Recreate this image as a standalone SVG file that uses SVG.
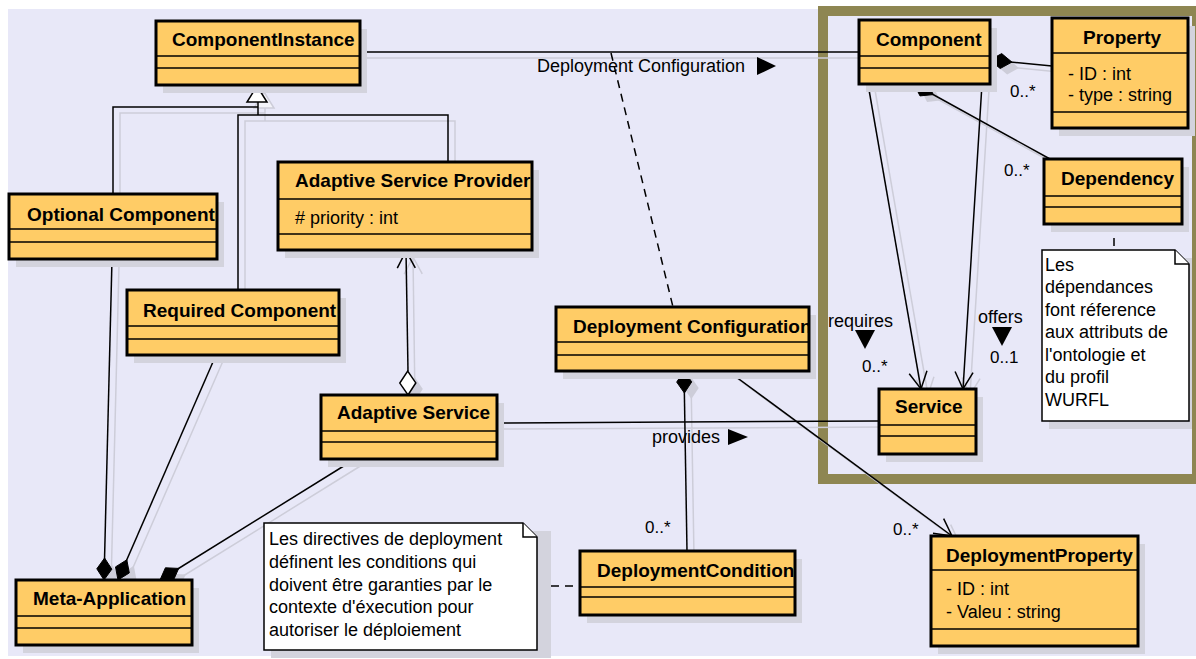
<svg xmlns="http://www.w3.org/2000/svg" width="1196" height="659" viewBox="0 0 1196 659">
<style>
.bg{fill:#E8E8F8}
.sh{fill:#D3D3DD}
.box{fill:#FFCC66;stroke:#000;stroke-width:3}
.dv{stroke:#000;stroke-width:1.5}
.t{font-family:"Liberation Sans",Arial,sans-serif;font-weight:bold;font-size:19px;fill:#000}
.a{font-family:"Liberation Sans",Arial,sans-serif;font-size:18px;fill:#000}
.m{font-family:"Liberation Sans",Arial,sans-serif;font-size:17px;fill:#000}
.note{fill:#fff;stroke:#000;stroke-width:1.5}
.ln{fill:none;stroke:#000;stroke-width:1.5}
.dash{stroke-dasharray:8 6}
.shl{fill:none;stroke:#CDCDD9;stroke-width:1.5}
.dia{fill:#000;stroke:#000;stroke-width:1}
.odia{fill:#fff;stroke:#000;stroke-width:1.5}
.sdia{fill:#CDCDD9}
</style>
<defs>
<marker id="arr" markerUnits="userSpaceOnUse" refX="0" refY="0" markerWidth="1" markerHeight="1" orient="auto" overflow="visible">
<path d="M-17,-9 L0,0 L-17,9" fill="none" stroke="#000" stroke-width="1.5"/>
</marker>
<marker id="arrShadow" markerUnits="userSpaceOnUse" refX="0" refY="0" markerWidth="1" markerHeight="1" orient="auto" overflow="visible">
<path d="M-17,-9 L0,0 L-17,9" fill="none" stroke="#CDCDD9" stroke-width="1.5"/>
</marker>
<clipPath id="cASP"><rect x="278" y="162" width="253" height="37"/></clipPath>
<clipPath id="cDC"><rect x="556" y="307" width="252" height="35"/></clipPath>
<clipPath id="cDCo"><rect x="580" y="551" width="214" height="36"/></clipPath>
<clipPath id="cDP"><rect x="931" y="536" width="206" height="34"/></clipPath>
</defs>

<rect x="0" y="0" width="1196" height="659" fill="#fff"/>
<rect class="bg" x="8" y="9" width="1188" height="647"/>
<rect x="823" y="11" width="374" height="468" fill="none" stroke="#8E8652" stroke-width="10"/>

<g id="connector-shadows" transform="translate(7,6)">
<path class="shl" d="M360,52 L859,52"/>
<path class="shl" d="M113,194 L113,107 L258,107 M238,290 L238,115 L448,115 L448,162 M258,115 L258,102"/>
<polygon points="257,86 247,102 267,102" fill="#F4F4FA" stroke="#CDCDD9" stroke-width="1.5"/>
<path class="shl" d="M104,580 L112,259 M118,580 L216,355 M160,580 L355,459"/>
<path class="shl" d="M408,395 L406,251" marker-end="url(#arrShadow)"/>
<path class="shl" d="M497,423 L879,421 M684,371 L687,551"/>
<path class="shl" d="M728,371 L952,536" marker-end="url(#arrShadow)"/>
<path class="shl" d="M990,60 L1052,66 M914,84 L1050,159"/>
<path class="shl" d="M868,84 L921,389" marker-end="url(#arrShadow)"/>
<path class="shl" d="M982,84 L963,389" marker-end="url(#arrShadow)"/>
<polygon class="sdia" points="104,580 111.8,569.2 104.6,558 96.8,568.8"/>
<polygon class="sdia" points="118,580 129.3,572.9 126.8,559.8 115.5,566.9"/>
<polygon class="sdia" points="160,580 173.3,580.6 178.7,568.4 165.4,567.8"/>
<polygon class="sdia" points="408,395 415.8,382.9 407.7,371 399.8,383.1"/>
<polygon class="sdia" points="684,371 691.7,381.9 684.4,393 676.7,382.1"/>
<polygon class="sdia" points="990,60 1000.2,68.5 1011.9,62.1 1001.7,53.6"/>
<polygon class="sdia" points="914,84 920,95.9 933.3,94.6 927.3,82.7"/>
</g>

<g id="connectors">
<path class="ln" d="M360,52 L859,52"/>
<path class="ln dash" d="M611,53 L673,307"/>
<text class="a" x="537" y="72">Deployment Configuration</text>
<polygon points="757,57 776,66 757,75" fill="#000"/>

<path class="ln" d="M113,194 L113,107 L258,107"/>
<path class="ln" d="M238,290 L238,115 L448,115 L448,162"/>
<path class="ln" d="M258,115 L258,102"/>
<polygon points="257,86 247,102 267,102" fill="#fff" stroke="#000" stroke-width="1.5"/>

<path class="ln" d="M104,580 L112,259"/>
<polygon class="dia" points="104,580 111.8,569.2 104.6,558 96.8,568.8"/>
<path class="ln" d="M118,580 L216,355"/>
<polygon class="dia" points="118,580 129.3,572.9 126.8,559.8 115.5,566.9"/>
<path class="ln" d="M160,580 L355,459"/>
<polygon class="dia" points="160,580 173.3,580.6 178.7,568.4 165.4,567.8"/>

<path class="ln" d="M408,371 L406,251" marker-end="url(#arr)"/>
<polygon class="odia" points="408,395 415.8,382.9 407.7,371 399.8,383.1"/>

<path class="ln" d="M497,423 L879,421"/>
<text class="a" x="652" y="443">provides</text>
<polygon points="728,429 748,437 728,445" fill="#000"/>

<path class="ln" d="M684,371 L687,551"/>
<polygon class="dia" points="684,371 691.7,381.9 684.4,393 676.7,382.1"/>
<text class="m" x="645" y="533">0..*</text>
<path class="ln" d="M728,371 L952,536" marker-end="url(#arr)"/>
<text class="m" x="893" y="535">0..*</text>

<path class="ln dash" d="M537,586 L580,586"/>

<path class="ln" d="M990,60 L1052,66"/>
<polygon class="dia" points="990,60 1000.2,68.5 1011.9,62.1 1001.7,53.6"/>
<text class="m" x="1010" y="97">0..*</text>
<path class="ln" d="M914,84 L1050,159"/>
<polygon class="dia" points="914,84 920,95.9 933.3,94.6 927.3,82.7"/>
<text class="m" x="1004" y="176">0..*</text>
<path class="ln dash" d="M1114,224 L1114,250"/>

<path class="ln" d="M868,84 L921,389" marker-end="url(#arr)"/>
<text class="a" x="828" y="327">requires</text>
<polygon points="855,330 875,330 865,349" fill="#000"/>
<text class="m" x="862" y="372">0..*</text>
<path class="ln" d="M982,84 L963,389" marker-end="url(#arr)"/>
<text class="a" x="978" y="323">offers</text>
<polygon points="992,327 1012,327 1002,346" fill="#000"/>
<text class="m" x="990" y="363">0..1</text>
</g>

<g id="ComponentInstance">
<rect class="sh" x="163" y="29" width="204" height="64"/>
<rect class="box" x="156" y="21" width="204" height="64"/>
<line class="dv" x1="156" y1="56" x2="360" y2="56"/><line class="dv" x1="156" y1="68" x2="360" y2="68"/>
<text class="t" x="172" y="46">ComponentInstance</text>
</g>

<g id="OptionalComponent">
<rect class="sh" x="16" y="202" width="208" height="65"/>
<rect class="box" x="9" y="194" width="208" height="65"/>
<line class="dv" x1="9" y1="229" x2="217" y2="229"/><line class="dv" x1="9" y1="242" x2="217" y2="242"/>
<text class="t" x="27" y="221">Optional Component</text>
</g>

<g id="RequiredComponent">
<rect class="sh" x="134" y="298" width="212" height="65"/>
<rect class="box" x="127" y="290" width="212" height="65"/>
<line class="dv" x1="127" y1="326" x2="339" y2="326"/><line class="dv" x1="127" y1="339" x2="339" y2="339"/>
<text class="t" x="143" y="317">Required Component</text>
</g>

<g id="AdaptiveServiceProvider">
<rect class="sh" x="285" y="170" width="254" height="88"/>
<rect class="box" x="278" y="162" width="254" height="88"/>
<line class="dv" x1="278" y1="199" x2="532" y2="199"/><line class="dv" x1="278" y1="234" x2="532" y2="234"/>
<text class="t" x="295" y="187" clip-path="url(#cASP)">Adaptive Service Provider</text>
<text class="a" x="295" y="224"># priority : int</text>
</g>

<g id="DeploymentConfiguration">
<rect class="sh" x="563" y="315" width="253" height="64"/>
<rect class="box" x="556" y="307" width="253" height="64"/>
<line class="dv" x1="556" y1="342" x2="809" y2="342"/><line class="dv" x1="556" y1="355" x2="809" y2="355"/>
<text class="t" x="573" y="333" clip-path="url(#cDC)">Deployment Configuration</text>
</g>

<g id="AdaptiveService">
<rect class="sh" x="328" y="403" width="176" height="64"/>
<rect class="box" x="321" y="395" width="176" height="64"/>
<line class="dv" x1="321" y1="431" x2="497" y2="431"/><line class="dv" x1="321" y1="442" x2="497" y2="442"/>
<text class="t" x="337" y="419">Adaptive Service</text>
</g>

<g id="MetaApplication">
<rect class="sh" x="23" y="588" width="176" height="65"/>
<rect class="box" x="16" y="580" width="176" height="65"/>
<line class="dv" x1="16" y1="616" x2="192" y2="616"/><line class="dv" x1="16" y1="628" x2="192" y2="628"/>
<text class="t" x="33" y="605">Meta-Application</text>
</g>

<g id="NoteDirectives">
<path class="sh" d="M271,531 L551,531 L551,658 L271,658 Z"/>
<path class="note" d="M264,523 L523,523 L537,537 L537,650 L264,650 Z"/>
<path class="note" d="M523,523 L523,537 L537,537"/>
<text class="a" x="269" y="545">Les directives de deployment</text>
<text class="a" x="269" y="568">définent les conditions qui</text>
<text class="a" x="269" y="591">doivent être garanties par le</text>
<text class="a" x="269" y="613">contexte d'éxecution pour</text>
<text class="a" x="269" y="636">autoriser le déploiement</text>
</g>

<g id="DeploymentCondition">
<rect class="sh" x="587" y="559" width="215" height="64"/>
<rect class="box" x="580" y="551" width="215" height="64"/>
<line class="dv" x1="580" y1="587" x2="795" y2="587"/><line class="dv" x1="580" y1="597" x2="795" y2="597"/>
<text class="t" x="597" y="577" clip-path="url(#cDCo)">DeploymentCondition</text>
</g>

<g id="DeploymentProperty">
<rect class="sh" x="938" y="544" width="207" height="110"/>
<rect class="box" x="931" y="536" width="207" height="110"/>
<line class="dv" x1="931" y1="570" x2="1138" y2="570"/><line class="dv" x1="931" y1="629" x2="1138" y2="629"/>
<text class="t" x="946" y="562" clip-path="url(#cDP)">DeploymentProperty</text>
<text class="a" x="946" y="595">- ID : int</text>
<text class="a" x="946" y="618">- Valeu : string</text>
</g>

<g id="Component">
<rect class="sh" x="866" y="28" width="131" height="64"/>
<rect class="box" x="859" y="20" width="131" height="64"/>
<line class="dv" x1="859" y1="56" x2="990" y2="56"/><line class="dv" x1="859" y1="68" x2="990" y2="68"/>
<text class="t" x="876" y="46">Component</text>
</g>

<g id="Property">
<rect class="sh" x="1059" y="26" width="136" height="110"/>
<rect class="box" x="1052" y="18" width="136" height="110"/>
<line class="dv" x1="1052" y1="53" x2="1188" y2="53"/><line class="dv" x1="1052" y1="112" x2="1188" y2="112"/>
<text class="t" x="1083" y="44">Property</text>
<text class="a" x="1068" y="80">- ID : int</text>
<text class="a" x="1068" y="101">- type : string</text>
</g>

<g id="Dependency">
<rect class="sh" x="1051" y="167" width="138" height="65"/>
<rect class="box" x="1044" y="159" width="138" height="65"/>
<line class="dv" x1="1044" y1="196" x2="1182" y2="196"/><line class="dv" x1="1044" y1="207" x2="1182" y2="207"/>
<text class="t" x="1061" y="185">Dependency</text>
</g>

<g id="NoteDependances">
<path class="sh" d="M1049,258 L1192,258 L1192,429 L1049,429 Z"/>
<path class="note" d="M1042,250 L1175,250 L1189,264 L1189,421 L1042,421 Z"/>
<path class="note" d="M1175,250 L1175,264 L1189,264"/>
<text class="a" x="1045" y="271">Les</text>
<text class="a" x="1045" y="293">dépendances</text>
<text class="a" x="1045" y="316">font réference</text>
<text class="a" x="1045" y="338">aux attributs de</text>
<text class="a" x="1045" y="361">l'ontologie et</text>
<text class="a" x="1045" y="383">du profil</text>
<text class="a" x="1045" y="406">WURFL</text>
</g>

<g id="Service">
<rect class="sh" x="886" y="397" width="97" height="65"/>
<rect class="box" x="879" y="389" width="97" height="65"/>
<line class="dv" x1="879" y1="425" x2="976" y2="425"/><line class="dv" x1="879" y1="436" x2="976" y2="436"/>
<text class="t" x="895" y="413">Service</text>
</g>
</svg>
